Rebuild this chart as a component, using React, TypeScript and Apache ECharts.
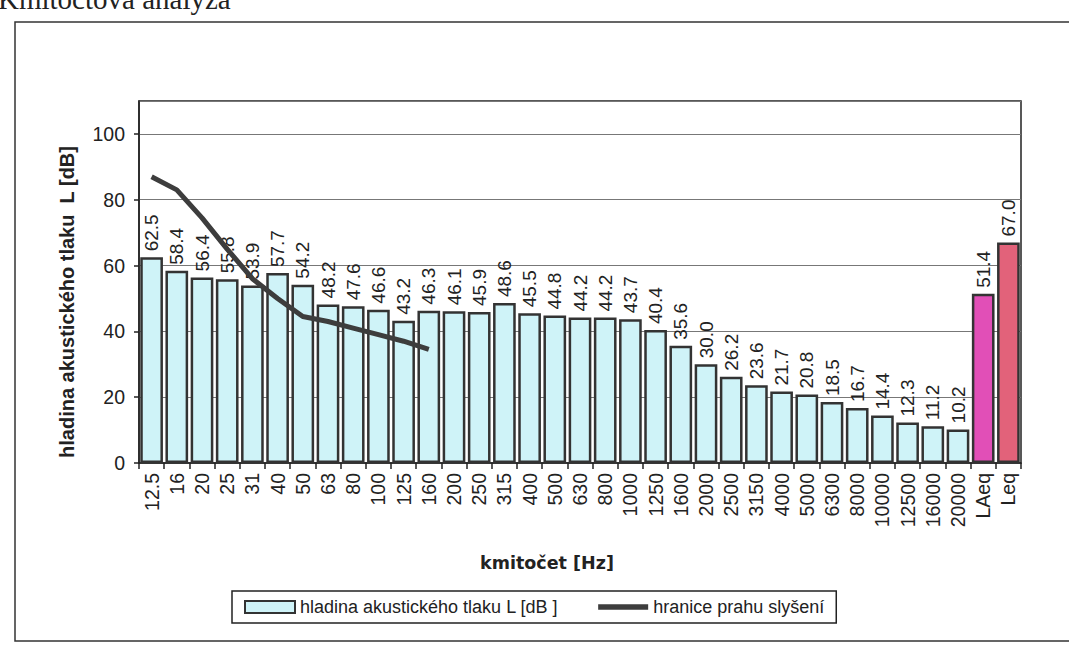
import React, { useEffect, useRef } from "react";
import * as echarts from "echarts";

const categories = [
  "12.5", "16", "20", "25", "31", "40", "50", "63", "80", "100", "125", "160",
  "200", "250", "315", "400", "500", "630", "800", "1000", "1250", "1600",
  "2000", "2500", "3150", "4000", "5000", "6300", "8000", "10000", "12500",
  "16000", "20000", "LAeq", "Leq",
];

const levels = [
  62.5, 58.4, 56.4, 55.8, 53.9, 57.7, 54.2, 48.2, 47.6, 46.6, 43.2, 46.3,
  46.1, 45.9, 48.6, 45.5, 44.8, 44.2, 44.2, 43.7, 40.4, 35.6,
  30.0, 26.2, 23.6, 21.7, 20.8, 18.5, 16.7, 14.4, 12.3,
  11.2, 10.2, 51.4, 67.0,
];

const threshold = [87, 83, 74.5, 65, 56, 50, 44.5, 43, 41, 39, 37, 34.5];

const yTicks = { min: 0, max: 110, interval: 20 };

const barColor = "#cff3f8";
const specialColors: Record<string, string> = { LAeq: "#e14fb7", Leq: "#e2627a" };

export default function App() {
  const ref = useRef<HTMLDivElement>(null);
  useEffect(() => {
    if (!ref.current) return;
    const chart = echarts.init(ref.current, null, { renderer: "svg" });
    const font = "'Liberation Sans', Arial, sans-serif";
    const barData = levels.map((v, i) => {
      const c = specialColors[categories[i]];
      return c ? { value: v, itemStyle: { color: c } } : v;
    });
    const lineData = categories.map((_, i) => (i < threshold.length ? threshold[i] : null));
    chart.setOption({
      animation: false,
      backgroundColor: "#ffffff",
      textStyle: { fontFamily: font },
      grid: {
        left: 139,
        right: 48,
        top: 101,
        bottom: 185,
        show: true,
        borderColor: "#222",
        borderWidth: 1.5,
        containLabel: false,
      },
      graphic: [
        {
          type: "rect",
          shape: { x: 15, y: 22, width: 1100, height: 619 },
          style: { fill: "none", stroke: "#333", lineWidth: 1.5 },
          silent: true,
        },
        {
          type: "text",
          x: -2,
          y: -1,
          style: {
            text: "Kmitočtová analýza",
            font: "29px 'Liberation Serif', 'Times New Roman', serif",
            fill: "#222",
            textAlign: "left",
            textVerticalAlign: "middle",
          },
        },
        {
          type: "text",
          x: 67,
          y: 302,
          rotation: Math.PI / 2,
          style: {
            text: "hladina akustického tlaku  L [dB]",
            font: "bold 20px 'Liberation Sans', Arial, sans-serif",
            fill: "#222",
            textAlign: "center",
            textVerticalAlign: "middle",
          },
        },
        {
          type: "text",
          x: 547,
          y: 563,
          style: {
            text: "kmitočet [Hz]",
            font: "bold 17.5px 'DejaVu Sans', sans-serif",
            fill: "#222",
            textAlign: "center",
            textVerticalAlign: "middle",
          },
        },
      ],
      legend: {
        left: 232,
        top: 591,
        orient: "horizontal",
        borderColor: "#222",
        borderWidth: 1.5,
        padding: [7, 12],
        itemGap: 40,
        itemWidth: 50,
        itemHeight: 12,
        textStyle: { fontSize: 18, color: "#222", fontFamily: font },
        data: [
          { name: "hladina akustického tlaku L [dB ]", icon: "rect" },
          { name: "hranice prahu slyšení", icon: "path://M0,0H46V5H0Z" },
        ],
      },
      xAxis: {
        type: "category",
        data: categories,
        axisLine: { lineStyle: { color: "#222", width: 1.5 } },
        axisTick: { show: true, interval: 0, length: 6, lineStyle: { color: "#222", width: 1.5 } },
        axisLabel: {
          interval: 0,
          rotate: 90,
          fontSize: 19.5,
          color: "#222",
          margin: 10,
        },
      },
      yAxis: {
        type: "value",
        min: yTicks.min,
        max: yTicks.max,
        interval: yTicks.interval,
        axisLine: { show: true, lineStyle: { color: "#222", width: 1.5 } },
        axisTick: { show: true, length: 5, lineStyle: { color: "#222", width: 1.5 } },
        axisLabel: { fontSize: 19.5, color: "#222", margin: 14, showMaxLabel: false },
        splitLine: { show: true, lineStyle: { color: "#777", width: 1 } },
      },
      series: [
        {
          name: "hladina akustického tlaku L [dB ]",
          type: "bar",
          data: barData,
          barCategoryGap: "10%",
          itemStyle: { color: barColor, borderColor: "#333", borderWidth: 2.5 },
          label: {
            show: true,
            position: "top",
            rotate: 90,
            align: "left",
            verticalAlign: "middle",
            distance: 6,
            fontSize: 19,
            color: "#222",
            formatter: (p: any) => Number(p.value).toFixed(1),
          },
          z: 2,
        },
        {
          name: "hranice prahu slyšení",
          type: "line",
          data: lineData,
          symbol: "none",
          connectNulls: false,
          lineStyle: { color: "#3d3d3d", width: 5 },
          itemStyle: { color: "#3d3d3d" },
          z: 3,
        },
      ],
    });
    return () => chart.dispose();
  }, []);
  return (
    <div
      ref={ref}
      style={{ position: "absolute", left: 0, top: 0, width: 1069, height: 648 }}
    />
  );
}
